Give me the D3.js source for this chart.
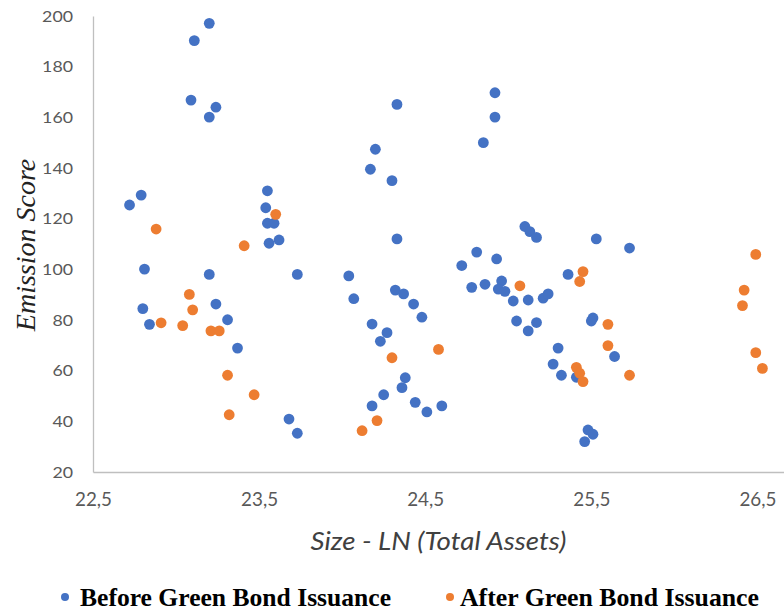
<!DOCTYPE html>
<html>
<head>
<meta charset="utf-8">
<script src="https://cdn.jsdelivr.net/npm/d3@7"></script>
<style>
  html, body { margin: 0; padding: 0; background: #fff; }
  svg { display: block; }
</style>
</head>
<body>
<svg id="chart" width="784" height="613"></svg>
<script>
// Size (LN of total assets) vs emission score, before and after green bond issuance
const beforeX = [23.11, 23.20, 23.09, 23.20, 23.24, 22.72, 22.79, 24.33, 24.20, 24.17,
  24.30, 24.33, 24.92, 24.92, 24.85, 23.55, 23.54, 23.55, 23.59, 23.56,
  23.62, 25.10, 25.13, 25.17, 25.53, 25.73, 22.81, 22.80, 22.84, 23.20,
  23.24, 23.31, 23.37, 23.73, 24.04, 24.07, 24.32, 24.37, 24.43, 24.48,
  24.18, 24.27, 24.23, 23.68, 23.73, 24.38, 24.36, 24.25, 24.18, 24.44,
  24.51, 24.60, 24.72, 24.81, 24.93, 24.78, 24.86, 24.96, 24.94, 24.98,
  25.03, 25.05, 25.12, 25.21, 25.24, 25.17, 25.12, 25.36, 25.51, 25.50,
  25.64, 25.30, 25.27, 25.32, 25.41, 25.48, 25.51, 25.46];
const beforeY = [190.3, 197.1, 166.8, 160.1, 164.0, 125.4, 129.3, 165.1, 147.4, 139.5,
  135.0, 112.0, 169.7, 160.1, 150.0, 131.0, 124.3, 118.2, 118.2, 110.3,
  111.6, 116.9, 114.9, 112.6, 112.0, 108.4, 100.1, 84.5, 78.3, 98.0,
  86.3, 80.1, 68.9, 98.0, 97.4, 88.4, 91.8, 90.3, 86.3, 81.1,
  78.4, 75.0, 71.6, 40.9, 35.3, 57.2, 53.3, 50.5, 46.1, 47.5,
  43.7, 46.1, 101.5, 106.8, 104.1, 92.9, 94.1, 95.4, 92.2, 91.3,
  87.5, 79.6, 87.9, 88.6, 90.3, 79.0, 75.7, 98.0, 80.8, 79.6,
  65.6, 68.9, 62.6, 58.2, 57.4, 36.6, 34.9, 32.0];

const afterX = [22.88, 23.41, 23.60, 22.91, 23.04, 23.08, 23.10, 23.21, 23.26, 23.31,
  23.32, 23.47, 24.30, 24.58, 24.21, 24.12, 25.07, 25.45, 25.43, 25.60,
  25.60, 25.41, 25.43, 25.45, 25.73, 26.49, 26.42, 26.41, 26.49, 26.53];
const afterY = [115.9, 109.3, 121.7, 78.9, 77.8, 90.1, 84.0, 75.7, 75.7, 58.2,
  42.6, 50.5, 65.1, 68.4, 40.3, 36.3, 93.5, 99.1, 95.2, 78.3,
  69.9, 61.3, 59.0, 55.7, 58.2, 105.9, 91.8, 85.7, 67.1, 60.9];

const xTicks = [22.5, 23.5, 24.5, 25.5, 26.5];
const yTicks = [20, 40, 60, 80, 100, 120, 140, 160, 180, 200];

const seriesNames = ["Before Green Bond Issuance", "After Green Bond Issuance"];
const seriesColors = ["#4472C4", "#ED7D31"];

const svg = d3.select("#chart");

const x = d3.scaleLinear().domain([22.5, 26.66]).range([93, 784]);
const y = d3.scaleLinear().domain([20, 200]).range([472, 16]);

const axisColor = "#bfbfbf";
const tickColor = "#595959";
const fmtComma = d => d3.format(".1f")(d).replace(".", ",");

// axes (lines only, Excel-style without tick marks)
const xAxis = d3.axisBottom(x).tickValues(xTicks).tickSize(0).tickPadding(0).tickFormat(fmtComma);
const gx = svg.append("g").attr("transform", `translate(0,${y(20)})`).call(xAxis);
gx.select(".domain").attr("stroke", axisColor).attr("stroke-width", 1.3);
gx.selectAll("text")
  .attr("y", 27)
  .attr("dy", "0.35em")
  .attr("fill", tickColor)
  .style("font-family", "Lato, 'Open Sans', sans-serif")
  .style("font-size", "20px")
  .attr("textLength", 37)
  .attr("lengthAdjust", "spacingAndGlyphs");

const yAxis = d3.axisLeft(y).tickValues(yTicks).tickSize(0).tickPadding(20);
const gy = svg.append("g").attr("transform", `translate(${x(22.5)},0)`).call(yAxis);
gy.select(".domain").attr("stroke", axisColor).attr("stroke-width", 1.3);
gy.selectAll("text")
  .attr("fill", tickColor)
  .style("font-family", "Lato, 'Open Sans', sans-serif")
  .style("font-size", "16px")
  .attr("textLength", d => String(d).length * 10.3)
  .attr("lengthAdjust", "spacingAndGlyphs");

// points
const series = [
  { xs: beforeX, ys: beforeY },
  { xs: afterX, ys: afterY }
];
series.forEach((s, i) => {
  svg.append("g")
    .selectAll("circle")
    .data(s.xs.map((v, k) => [v, s.ys[k]]))
    .join("circle")
    .attr("cx", d => x(d[0]))
    .attr("cy", d => y(d[1]))
    .attr("r", 5.4)
    .attr("fill", seriesColors[i]);
});

// axis titles
svg.append("text")
  .attr("x", (x.range()[0] + x.range()[1]) / 2)
  .attr("y", 540)
  .attr("text-anchor", "middle")
  .attr("dominant-baseline", "central")
  .attr("fill", "#404040")
  .style("font-family", "Lato, 'Open Sans', sans-serif")
  .style("font-style", "italic")
  .style("font-size", "25px")
  .attr("textLength", 256)
  .attr("lengthAdjust", "spacingAndGlyphs")
  .text("Size - LN (Total Assets)");

svg.append("text")
  .attr("transform", "translate(25,245) rotate(-90)")
  .attr("text-anchor", "middle")
  .attr("dominant-baseline", "central")
  .attr("fill", "#222")
  .style("font-family", "'Liberation Serif', 'DejaVu Serif', serif")
  .style("font-style", "italic")
  .style("font-size", "28px")
  .text("Emission Score");

// legend
const legendItems = [
  { dot: 65, text: 80, width: 311 },
  { dot: 450, text: 460, width: 299 }
];
const legend = svg.append("g");
legendItems.forEach((it, i) => {
  legend.append("circle")
    .attr("cx", it.dot).attr("cy", 597).attr("r", 4)
    .attr("fill", seriesColors[i]);
  legend.append("text")
    .attr("x", it.text).attr("y", 597)
    .attr("dominant-baseline", "central")
    .attr("fill", "#000")
    .style("font-family", "'Liberation Serif', 'Times New Roman', serif")
    .style("font-weight", "bold")
    .style("font-size", "26px")
    .attr("textLength", it.width)
    .attr("lengthAdjust", "spacingAndGlyphs")
    .text(seriesNames[i]);
});
</script>
</body>
</html>
